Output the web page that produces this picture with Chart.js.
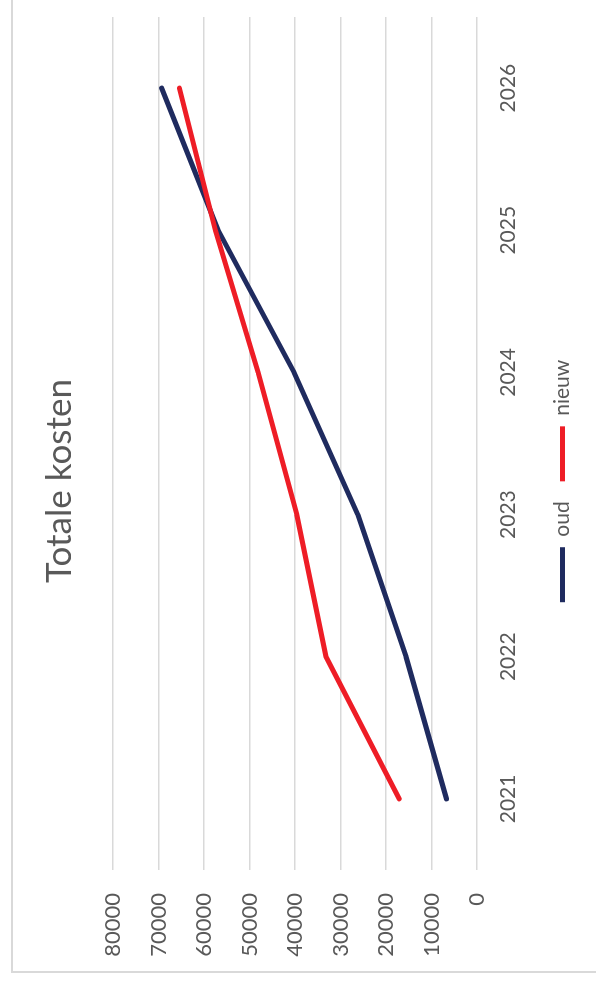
<!DOCTYPE html>
<html><head><meta charset="utf-8">
<script src="https://cdn.jsdelivr.net/npm/chart.js@4.4.1/dist/chart.umd.min.js"></script>
<style>
html,body{margin:0;padding:0;width:596px;height:989px;overflow:hidden;background:#fff;}
#rot{position:absolute;left:0;top:0;width:1000px;height:596px;transform-origin:0 0;transform:translate(0,989px) rotate(-90deg);}
#frame{position:absolute;left:16px;top:11px;width:1000px;height:700px;border:2px solid #d9d9d9;box-sizing:border-box;}
#c{position:absolute;left:0;top:0;}
</style></head><body>
<div id="rot"><div id="frame"></div><canvas id="c" width="1000" height="596"></canvas></div>
<script>
const years = ['2021', '2022', '2023', '2024', '2025', '2026'];
const oud = [6700, 15600, 26200, 40200, 56900, 69300];
const nieuw = [17100, 33200, 39600, 48100, 57500, 65400];
const valueMin = 0, valueMax = 80000, valueStep = 10000;

const txt = '#595959';
const fam = 'Lato, "Open Sans", sans-serif';

new Chart(document.getElementById('c'), {
  type: 'line',
  data: {
    labels: years,
    datasets: [
      { label: 'oud', data: oud, borderColor: '#1f2b5f', backgroundColor: '#1f2b5f', borderWidth: 5,
        pointRadius: 0, tension: 0, borderCapStyle: 'round', borderJoinStyle: 'round', order: 1 },
      { label: 'nieuw', data: nieuw, borderColor: '#ee1d26', backgroundColor: '#ee1d26', borderWidth: 5,
        pointRadius: 0, tension: 0, borderCapStyle: 'round', borderJoinStyle: 'round', order: 0 }
    ]
  },
  options: {
    responsive: false, animation: false,
    layout: { padding: { left: 16, top: 11, right: 0, bottom: 13 } },
    plugins: {
      title: { display: true, text: 'Totale kosten', color: txt,
        font: { family: fam, size: 35, weight: '400' }, padding: { top: 28, bottom: 32 } },
      legend: { position: 'bottom',
        labels: { usePointStyle: true, pointStyle: 'line', pointStyleWidth: 55, boxHeight: 5,
          color: txt, font: { family: fam, size: 21 }, padding: 20,
          sort: (a, b) => a.datasetIndex - b.datasetIndex } },
      tooltip: { enabled: false }
    },
    scales: {
      x: { type: 'category', offset: true,
        grid: { display: false, drawTicks: false }, border: { display: false },
        ticks: { color: txt, font: { family: fam, size: 21 }, padding: 19, maxRotation: 0 },
        afterFit: s => { s.height = 55; } },
      y: { min: valueMin, max: valueMax,
        ticks: { stepSize: valueStep, color: txt, font: { family: fam, size: 22 }, padding: 23,
          callback: v => String(v) },
        grid: { color: '#d9d9d9', lineWidth: 1.5, drawTicks: false }, border: { display: false },
        afterFit: s => { s.width = 103; } },
      yr: { position: 'right', display: true, min: 0, max: 1,
        ticks: { display: false }, grid: { display: false, drawTicks: false }, border: { display: false },
        afterFit: s => { s.width = 28; } }
    }
  }
});
</script>
</body></html>
